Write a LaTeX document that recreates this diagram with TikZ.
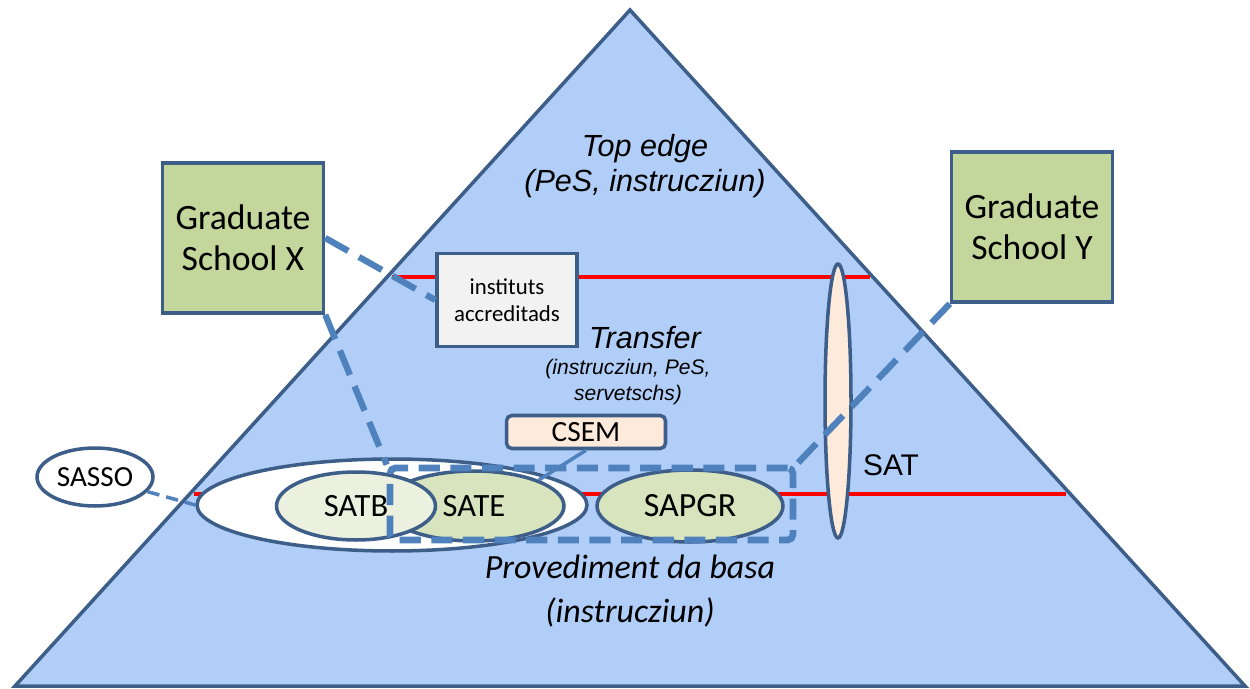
\documentclass[tikz,border=0pt]{standalone}
\usepackage{fontspec}
\setmainfont{Carlito}
\newfontfamily\arialfont{Liberation Sans}
\usetikzlibrary{shapes.geometric}
\definecolor{pyrfill}{RGB}{176,206,248}
\definecolor{edgeblue}{RGB}{62,94,138}
\definecolor{linkblue}{RGB}{79,129,189}
\definecolor{gsgreen}{RGB}{195,214,155}
\definecolor{satbfill}{RGB}{235,241,222}
\definecolor{satefill}{RGB}{215,228,189}
\definecolor{peach}{RGB}{253,234,218}
\def\fsz#1#2{\fontsize{#1}{#2}\selectfont}
\tikzset{
  outl/.style={draw=edgeblue, line width=2pt},
  gsbox/.style={outl, fill=gsgreen, minimum width=3.22cm, minimum height=3cm, align=center, font=\fsz{20.3pt}{23.5pt}},
  oval/.style={outl, ellipse, inner sep=0pt},
  bigdash/.style={draw=linkblue, line width=3.6pt, dash pattern=on 15pt off 7pt},
  grpdash/.style={draw=linkblue, line width=3.8pt, dash pattern=on 12pt off 6pt},
  level/.style={draw=red, line width=2.3pt},
  ital/.style={font=\arialfont\itshape\fsz{17.4pt}{20pt}, align=center}
}
\begin{document}
\begin{tikzpicture}[x=0.02cm, y=-0.02cm]
		%%%%% START %%%%%
		\useasboundingbox (0,0) rectangle (1250,689);
		
		% pyramid
		\draw[outl, fill=pyrfill] (630,10) -- (1245,686) -- (15,686) -- cycle;
		\draw[level] (392,277) -- (870,277);
		\draw[level] (194,494) -- (1066,494);
		
		\node[ital] (top) at (645,166) {Top edge\\(PeS, instrucziun)};
		\node[ital] (trf) at (645,338) {Transfer};
		\node[font=\arialfont\itshape\fsz{12pt}{15.3pt}, align=center] (trfsub) at (628,382) {(instrucziun, PeS,\\servetschs)};
		\node[font=\itshape\fsz{19.3pt}{20pt}] (prov) at (630,567) {Provediment da basa};
		\node[font=\itshape\fsz{19.3pt}{20pt}] (provsub) at (630,612) {(instrucziun)};
		\node[font=\arialfont\fsz{17pt}{20pt}] (satlbl) at (891,465) {SAT};
		
		% boxes
		\node[gsbox] (gsx) at (243,238) {Graduate\\School X};
		\node[gsbox] (gsy) at (1032,227) {Graduate\\School Y};
		\node[outl, fill=black!5, minimum width=2.8cm, minimum height=1.86cm, align=center, font=\fsz{13pt}{15.3pt}] (inst) at (507,300) {instituts\\accreditads};
		\node[outl, fill=peach, rounded corners=3pt, minimum width=3.18cm, minimum height=0.66cm, inner sep=0pt, font=\fsz{16.7pt}{20pt}] (csem) at (586,432) {CSEM};
		
		% ellipses
		\node[oval, fill=white, minimum width=2.32cm, minimum height=1.16cm, font=\fsz{16.6pt}{20pt}] (sasso) at (95,477) {SASSO};
		\node[oval, fill=white, minimum width=7.8cm, minimum height=1.84cm] (big) at (392,505) {};
		\node[oval, fill=satefill, minimum width=3.6cm, minimum height=1.4cm, font=\fsz{18.5pt}{20pt}] (sate) at (474,506) {SATE};
		\node[oval, fill=satbfill, minimum width=3.18cm, minimum height=1.36cm, font=\fsz{18.5pt}{20pt}] (satb) at (356,506) {SATB};
		\node[oval, fill=satefill, minimum width=3.72cm, minimum height=1.44cm, font=\fsz{19.3pt}{20pt}] (sapgr) at (690,506) {SAPGR};
		\node[oval, fill=peach, minimum width=0.52cm, minimum height=5.48cm] (sat) at (838,401) {};
		
		\node[grpdash, rounded corners=3pt, minimum width=8.06cm, minimum height=1.44cm] (grp) at (591.5,504) {};
		
		% links
		\draw[bigdash] (gsx.east) -- (inst.west);
		\draw[bigdash] (gsx.south east) -- (grp.north west);
		\draw[bigdash] (gsy.south west) -- (grp.north east);
		\draw[draw=linkblue, line width=2pt, dash pattern=on 7pt off 4pt] (sasso) -- (big.west);
		\draw[draw=linkblue, line width=2pt] (csem.south) -- (sate.north east);
		
		%%%%% END %%%%%
	\end{tikzpicture}
\end{document}
